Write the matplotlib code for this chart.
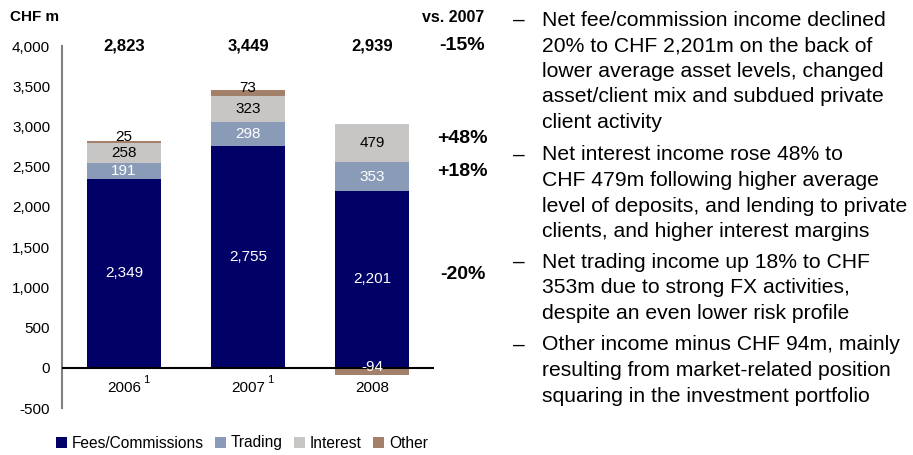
import matplotlib
matplotlib.use("Agg")
import matplotlib.pyplot as plt
from matplotlib.patches import Patch
from matplotlib import transforms

plt.rcParams['font.family'] = ['Liberation Sans', 'DejaVu Sans']

years = ['2006', '2007', '2008']
year_notes = ['1', '1', '']
series_names = ['Fees/Commissions', 'Trading', 'Interest', 'Other']
fees = [2349, 2755, 2201]
trading = [191, 298, 353]
interest = [258, 323, 479]
other = [25, 73, -94]
changes_vs_2007 = {'Total': '-15%', 'Interest': '+48%', 'Trading': '+18%', 'Fees/Commissions': '-20%'}
yticks = [-500, 0, 500, 1000, 1500, 2000, 2500, 3000, 3500, 4000]

colors = ['#000066', '#8A9BB8', '#C8C6C4', '#A3806A']
label_colors = [['white'] * 3, ['white'] * 3, ['black'] * 3, ['black', 'black', 'white']]

bullets = [
    ["Net fee/commission income declined", "20% to CHF 2,201m on the back of",
     "lower average asset levels, changed", "asset/client mix and subdued private",
     "client activity"],
    ["Net interest income rose 48% to", "CHF 479m following higher average",
     "level of deposits, and lending to private", "clients, and higher interest margins"],
    ["Net trading income up 18% to CHF", "353m due to strong FX activities,",
     "despite an even lower risk profile"],
    ["Other income minus CHF 94m, mainly", "resulting from market-related position",
     "squaring in the investment portfolio"],
]

W, H = 913, 455
fig = plt.figure(figsize=(W / 100, H / 100), dpi=100)

def fx(px):
    return px / W

def fy(py):
    return 1 - py / H

ax = fig.add_axes([fx(62), fy(408), fx(434) - fx(62), fy(46) - fy(408)])

data = [fees, trading, interest, other]
x = list(range(len(years)))
pos_base = [0.0] * len(years)
seg_centers = []
for si, (vals, col) in enumerate(zip(data, colors)):
    bottoms = []
    for i, v in enumerate(vals):
        bottoms.append(pos_base[i] if v >= 0 else 0)
    ax.bar(x, vals, bottom=bottoms, width=0.59, color=col, edgecolor='none', zorder=2)
    centers = []
    for i, v in enumerate(vals):
        centers.append(bottoms[i] + v / 2)
        if v >= 0:
            pos_base[i] += v
    seg_centers.append(centers)

# segment labels
off = transforms.offset_copy(ax.transData, fig=fig, x=0, y=5, units='dots')
for si, vals in enumerate(data):
    for i, v in enumerate(vals):
        tr = off if si == 3 else ax.transData
        ax.text(i, seg_centers[si][i], f"{v:,}", ha='center', va='center',
                fontsize=11, color=label_colors[si][i], transform=tr, zorder=4)

# totals
totals = [sum(d[i] for d in data) for i in range(len(years))]
for i, t in enumerate(totals):
    ax.text(i, 4000, f"{t:,}", ha='center', va='center', fontsize=12,
            fontweight='bold', zorder=4)

# change column
chg_x = 2.73
ax.text(chg_x, 4000, changes_vs_2007['Total'], ha='center', va='center',
        fontsize=14, fontweight='bold', clip_on=False)
for si, name in enumerate(series_names[:3]):
    ax.text(chg_x, seg_centers[si][2], changes_vs_2007[name], ha='center', va='center',
            fontsize=14, fontweight='bold', clip_on=False, transform=off)

ax.set_xlim(-0.5, 2.5)
ax.set_ylim(-500, 4000)
ax.set_yticks(yticks)
ax.set_yticklabels([f"{t:,}" for t in yticks], fontsize=11)
ax.tick_params(axis='y', length=0, pad=8.5)
ax.set_xticks([])
for s in ['top', 'right', 'bottom']:
    ax.spines[s].set_visible(False)
ax.spines['left'].set_color('#808080')
ax.spines['left'].set_linewidth(1.5)
ax.axhline(0, color='black', linewidth=1.5, zorder=3, xmin=0, xmax=1)

# x labels below zero line
for i, (yr, note) in enumerate(zip(years, year_notes)):
    ax.text(i, -250, yr, ha='center', va='center', fontsize=11)
    if note:
        tr2 = transforms.offset_copy(ax.transData, fig=fig, x=19, y=8, units='dots')
        ax.text(i, -250, note, ha='left', va='center', fontsize=8, transform=tr2)

fig.text(fx(10), fy(17), "CHF m", fontsize=11, fontweight='bold', ha='left', va='center')
fig.text(fx(484), fy(17), "vs. 2007", fontsize=11.5, fontweight='bold', ha='right', va='center')

handles = [Patch(facecolor=c, edgecolor='none') for c in colors]
fig.legend(handles, series_names, loc='center left', bbox_to_anchor=(fx(56), fy(443)),
           ncol=4, frameon=False, fontsize=11.2, handlelength=0.7, handleheight=0.7,
           handletextpad=0.3, columnspacing=0.75, borderaxespad=0, borderpad=0)

# bullet text
starts = [20, 155, 262, 345]
line_h = 25.6
for b, y0 in zip(bullets, starts):
    fig.text(fx(513), fy(y0), "\u2013", fontsize=15, ha='left', va='center')
    for j, line in enumerate(b):
        fig.text(fx(542), fy(y0 + j * line_h), line, fontsize=15.2, ha='left', va='center')

fig.savefig("out.png", dpi=100)
